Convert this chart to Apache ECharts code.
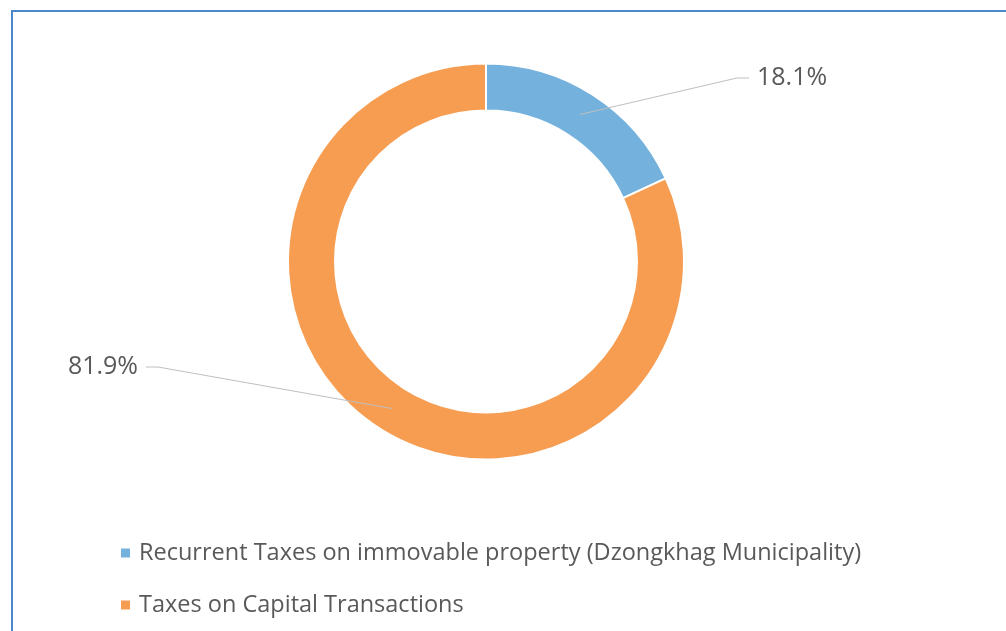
<!DOCTYPE html>
<html>
<head>
<meta charset="utf-8">
<script src="https://cdn.jsdelivr.net/npm/echarts@6/dist/echarts.min.js"></script>
<style>
  html, body { margin: 0; padding: 0; background: #fff; }
  #pie1 { width: 1006px; height: 631px; }
</style>
</head>
<body>
<div id="pie1"></div>
<script>
const categories = ['Recurrent Taxes on immovable property (Dzongkhag Municipality)', 'Taxes on Capital Transactions'];
const shares = [18.1, 81.9];
const colorList = ['#74B2DD', '#F79D52'];

var pie1 = echarts.init(document.getElementById('pie1'));

var center = [486, 261.5];
var innerR = 151, outerR = 198;
// where Excel put the two data labels
var labelPos = [
    { x: 749, y: 78, align: 'left' },
    { x: 146, y: 367, align: 'right' }
];

// leader lines start in the middle of the ring, at each slice's mid angle
var total = shares.reduce(function (a, b) { return a + b; }, 0);
var midR = (innerR + outerR) / 2;
var acc = 0;
var lineStarts = shares.map(function (v) {
    var a = (acc + v / 2) / total * Math.PI * 2;
    acc += v;
    return [center[0] + midR * Math.sin(a), center[1] - midR * Math.cos(a)];
});

var pieData = categories.map(function (name, i) {
    return { name: name, value: shares[i], itemStyle: { color: colorList[i] } };
});

option = {
    backgroundColor: '#fff',
    animation: false,
    graphic: [{
        type: 'rect',
        shape: { x: 12, y: 11, width: 1100, height: 700 },
        style: { fill: 'none', stroke: '#4A88C7', lineWidth: 2 },
        silent: true
    }],
    legend: {
        data: categories.map(function (name, i) {
            return { name: name, icon: 'rect', itemStyle: { color: colorList[i] } };
        }),
        orient: 'vertical',
        left: 119,
        top: 541,
        padding: 0,
        itemWidth: 11,
        itemHeight: 11,
        itemGap: 28,
        textStyle: {
            color: '#595959',
            fontFamily: 'Open Sans',
            fontSize: 23.5,
            lineHeight: 22,
            padding: [0, 0, 0, 3]
        }
    },
    series: [{
            name: 'ring',
            type: 'pie',
            center: center,
            radius: [innerR, outerR],
            startAngle: 90,
            clockwise: true,
            itemStyle: { borderColor: '#fff', borderWidth: 2 },
            label: { show: false },
            labelLine: { show: false },
            emphasis: { disabled: true },
            data: pieData
        },
        {
            // transparent copy on top of the ring, only carries labels and leader lines
            name: 'labels',
            type: 'pie',
            z: 5,
            center: center,
            radius: [innerR, outerR],
            startAngle: 90,
            clockwise: true,
            silent: true,
            avoidLabelOverlap: false,
            itemStyle: { color: 'transparent', borderWidth: 0 },
            label: {
                show: true,
                position: 'outside',
                formatter: function (p) { return p.value.toFixed(1) + '%'; },
                color: '#595959',
                fontFamily: 'Open Sans',
                fontSize: 25,
                padding: [0, 8]
            },
            labelLine: {
                show: true,
                length: 10,
                length2: 12,
                lineStyle: { color: '#BFBFBF', width: 1 }
            },
            labelLayout: function (params) {
                var p = labelPos[params.dataIndex];
                var dir = p.align === 'left' ? -1 : 1;
                return {
                    x: p.x,
                    y: p.y,
                    align: p.align,
                    verticalAlign: 'middle',
                    labelLinePoints: [lineStarts[params.dataIndex], [p.x + dir * 12, p.y], [p.x, p.y]]
                };
            },
            emphasis: { disabled: true },
            data: pieData.map(function (d) { return { name: d.name, value: d.value }; })
        }
    ]
};

pie1.setOption(option);

window.onresize = function () {
    pie1.resize();
};
</script>
</body>
</html>
